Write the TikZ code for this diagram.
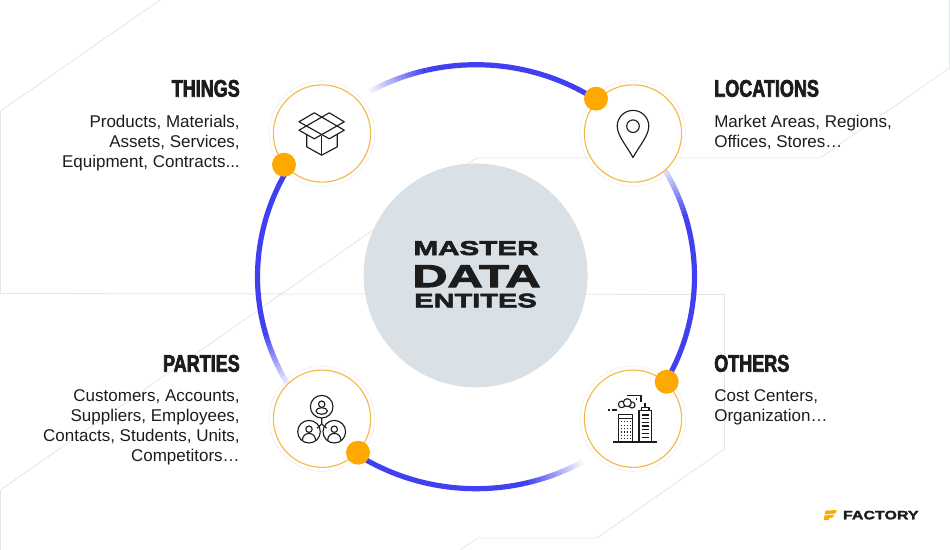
\documentclass[tikz,border=0pt]{standalone}
\usepackage{fontspec}
\setmainfont{Liberation Sans}
\newfontfamily\headfont[UprightFont={* Bold},FakeStretch=0.75,FakeBold=2.6]{Liberation Sans}
\newfontfamily\hubfont[UprightFont={* Bold},FakeStretch=1.48,FakeBold=3]{Liberation Sans}
\newfontfamily\datafont[UprightFont={* Bold},FakeStretch=1.55,FakeBold=3.4]{Liberation Sans}
\newfontfamily\brandfont[UprightFont={* Bold},FakeStretch=1.32,FakeBold=2]{Liberation Sans}

\definecolor{ringblue}{RGB}{64,64,240}
\definecolor{dotorange}{RGB}{255,168,0}
\definecolor{ringorange}{RGB}{245,185,70}
\definecolor{hubgrey}{RGB}{217,225,231}
\definecolor{gridgrey}{RGB}{226,229,234}
\definecolor{inkblack}{RGB}{28,28,28}

\tikzset{
	gridline/.style={draw=gridgrey,line width=0.6pt},
	ringline/.style={line width=3.9pt},
	hubdisc/.style={circle,fill=hubgrey,minimum size=168pt,inner sep=0pt},
	entityring/.style={circle,draw=ringorange,fill=white,line width=0.85pt,minimum size=73pt,inner sep=0pt},
	entityhalo/.style={circle,draw=gridgrey,densely dotted,line width=0.7pt,minimum size=79pt,inner sep=0pt},
	jointdot/.style={circle,fill=dotorange,minimum size=18pt,inner sep=0pt},
	iconline/.style={draw=inkblack,line width=0.85pt,line join=round},
	headleft/.style={anchor=base west,inner sep=0pt,text=inkblack,font=\headfont\fontsize{18}{18}\selectfont},
	headright/.style={anchor=base east,inner sep=0pt,text=inkblack,font=\headfont\fontsize{18}{18}\selectfont},
	bodyleft/.style={anchor=north west,inner sep=0pt,align=left,text=inkblack,font=\fontsize{12.75}{15}\selectfont},
	bodyright/.style={anchor=north east,inner sep=0pt,align=right,text=inkblack,font=\fontsize{12.75}{15}\selectfont},
	hubtext/.style={anchor=base,inner sep=0pt,text=inkblack},
}

\begin{document}
\begin{tikzpicture}[x=0.75pt,y=0.75pt,yscale=-1,xscale=1]
	\useasboundingbox (0,0) rectangle (950,550);
	\coordinate (ringcentre) at (476,276.7);

	% background lines
	\draw[gridline] (160,0) -- (0.4,111) -- (0.4,293.5) -- (724.5,294.5) -- (724.5,449) -- (597,538) -- (478,538) -- (460,550);
	\draw[gridline] (0.4,550) -- (0.4,490) -- (472,161) -- (477,158) -- (820,158) -- (949.4,68) -- (949.4,0);

	% ring pieces, each one fades out at its far end
	\foreach \d in {211,303,30,123} {
		\draw[ringline,ringblue] ([shift={(\d:218.5 and 212)}]ringcentre) arc[start angle=\d,delta angle=-46,x radius=218.5,y radius=212];
		\foreach \s in {0,...,15} {
			\pgfmathsetmacro\p{100-\s*6.2}
			\draw[ringline,ringblue!\p!white] ([shift={(\d-46-\s:218.5 and 212)}]ringcentre) arc[start angle=\d-46-\s,delta angle=-1.1,x radius=218.5,y radius=212];
		}
	}

	% hub
	\node[hubdisc] (hub) at (475.6,275.4) {};
	\node[hubtext,font=\hubfont\fontsize{15}{15}\selectfont] (master) at (476,255) {MASTER};
	\node[hubtext,font=\datafont\fontsize{23.6}{23.6}\selectfont] (data) at (476.5,287) {DATA};
	\node[hubtext,font=\hubfont\fontsize{14.7}{14.7}\selectfont] (entites) at (475.5,307.3) {ENTITES};

	% entity circles
	\foreach \n/\x/\y in {things/322/133.5,locations/633/133.5,parties/322/418.7,others/633/418.7} {
		\node[entityhalo] (\n halo) at (\x,\y) {};
		\node[entityring] (\n) at (\x,\y) {};
	}

	\node[jointdot] (thingsdot) at (284,164.7) {};
	\node[jointdot] (locationsdot) at (596,98.7) {};
	\node[jointdot] (partiesdot) at (358,452.7) {};
	\node[jointdot] (othersdot) at (666.7,381.7) {};

	% box icon
	\begin{scope}[shift={(322,133.5)},iconline]
		\draw (-23,-11.7) -- (-7.7,-20.7) -- (22.3,-3.3) -- (7.3,5.3) -- cycle;
		\draw (22.3,-11.7) -- (7.3,-20.7) -- (-23,-3.3) -- (-7.7,5.3) -- cycle;
		\draw (-15.3,0.7) -- (-15.3,13.3) -- (-0.3,21.7) -- (15.3,13.3) -- (15.3,0.7);
		\draw (-0.3,2.7) -- (-0.3,21.7);
	\end{scope}

	% pin icon
	\begin{scope}[shift={(633,133.5)},iconline]
		\draw (0,24) .. controls (-6,13) and (-15.8,2) .. (-15.8,-7.3) arc[start angle=180,end angle=360,radius=15.8] .. controls (15.8,2) and (6,13) .. (0,24) -- cycle;
		\draw (0,-7.3) circle[radius=6.3];
	\end{scope}

	% people icon
	\begin{scope}[shift={(322,418.7)},iconline]
		\draw (-0.3,-0.7) -- (-0.3,5.3) -- (-5,9.5);
		\draw (-0.3,5.3) -- (4.7,9.5);
		\foreach \x/\y in {-0.3/-12,-13/13,12.3/13} {
			\draw (\x,\y) circle[radius=11.3];
			\draw (\x,\y-2.5) circle[radius=3.2];
		}
		\draw (-0.3,-7.7) ellipse[x radius=5.7,y radius=3.3];
		\foreach \x in {-13,12.3} {
			\draw (\x-6.5,22) -- (\x-6.5,21) arc[start angle=180,end angle=360,x radius=6.5,y radius=6.3] -- (\x+6.5,22);
		}
	\end{scope}

	% buildings icon
	\begin{scope}[shift={(633,418.7)},iconline]
		\draw[line width=1.3pt] (-19.7,23) -- (23.7,23);
		\draw (-14.3,23) -- (-14.3,-4.3) -- (-0.7,-4.3) -- (-0.7,23);
		\draw (-14.3,-0.6) -- (-0.7,-0.6);
		\foreach \x in {-11.5,-8.6,-5.7,-2.9} {
			\foreach \y in {3,6.4,9.8,13.2,16.6,20} {
				\fill[inkblack] (\x-0.6,\y-0.6) rectangle (\x+0.6,\y+0.6);
			}
		}
		\draw (6,23) -- (6,-8) -- (18.7,-8) -- (18.7,23);
		\draw (8.7,-8) -- (8.7,-11.3) -- (16,-11.3) -- (16,-8);
		\draw (12,-11.3) -- (12,-15.3);
		\foreach \y in {-3.7,0,3.7,7.3,11,14.7,18.4} {
			\draw (8.7,\y) -- (16,\y);
		}
		\draw (-11.3,-14.3) circle[radius=3.3];
		\draw[fill=white] (-1,-13.7) circle[radius=3];
		\draw[fill=white] (-5.7,-16) circle[radius=4];
		\draw (-6.3,-23) -- (8,-23) -- (8,-17);
		\fill[inkblack] (3,-20.4) rectangle (4.4,-19);
		\draw (-24.7,-8.7) -- (-23,-8.7);
		\draw (-21.3,-8.7) -- (-16.3,-8.7);
	\end{scope}

	% labels
	\node[headright] (thingshead) at (240,96.7) {THINGS};
	\node[bodyright] (thingsbody) at (240,114.8) {Products, Materials,\\Assets, Services,\\Equipment, Contracts...};
	\node[headleft] (locationshead) at (714,96.7) {LOCATIONS};
	\node[bodyleft] (locationsbody) at (714,114.8) {Market Areas, Regions,\\Offices, Stores…};
	\node[headright] (partieshead) at (240,371.7) {PARTIES};
	\node[bodyright] (partiesbody) at (240,389.8) {Customers, Accounts,\\Suppliers, Employees,\\Contacts, Students, Units,\\Competitors…};
	\node[headleft] (othershead) at (714,371.7) {OTHERS};
	\node[bodyleft] (othersbody) at (714,389.8) {Cost Centers,\\Organization…};

	% logo
	\fill[dotorange] (825.5,510.6) -- (836.8,510) -- (835.2,513.6) -- (824.6,514.4) -- cycle;
	\fill[dotorange] (824.4,515.4) -- (834,514.8) -- (832.6,517.6) -- (829.4,518) -- (828.4,520.2) -- (824,520.2) -- cycle;
	\node[anchor=base west,inner sep=0pt,text=inkblack,font=\brandfont\fontsize{9.1}{9.1}\selectfont] (brand) at (842.7,519.3) {FACTORY};
\end{tikzpicture}
\end{document}
